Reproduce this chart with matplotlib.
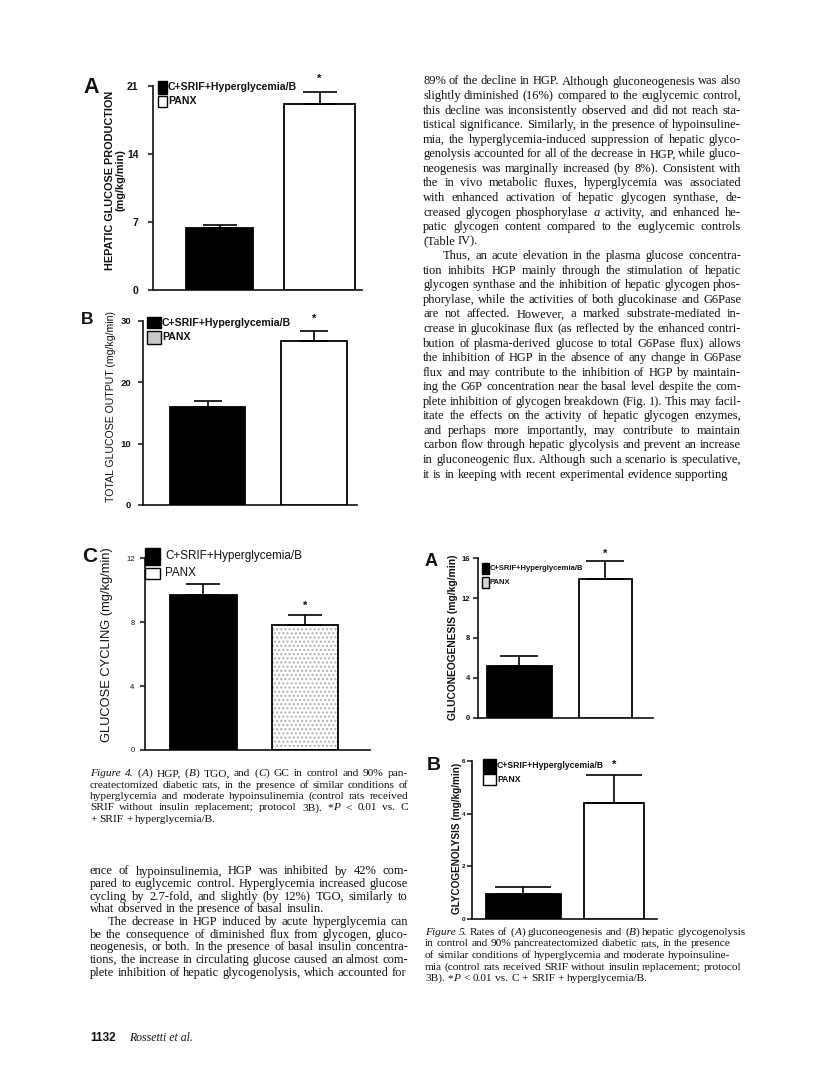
import matplotlib
matplotlib.use("Agg")
import matplotlib.pyplot as plt
from matplotlib.patches import Rectangle

# ---------------- data ----------------
groups = ["C+SRIF+Hyperglycemia/B", "PANX"]
hgp_mean = [6.4, 19.1]
hgp_sem = [0.25, 1.3]
tgo_mean = [15.9, 26.7]
tgo_sem = [1.0, 1.6]
gc_mean = [9.7, 7.8]
gc_sem = [0.7, 0.65]
gng_mean = [5.2, 13.9]
gng_sem = [1.0, 1.85]
gly_mean = [0.96, 4.41]
gly_sem = [0.26, 1.05]

hgp_ticks = [0, 7, 14, 21]
tgo_ticks = [0, 10, 20, 30]
gc_ticks = [0, 4, 8, 12]
gng_ticks = [0, 4, 8, 12, 16]
gly_ticks = [0, 2, 4, 6]
significant = [False, True]

right_col_lines = [
    "89% of the decline in HGP. Although gluconeogenesis was also",
    "slightly diminished (16%) compared to the euglycemic control,",
    "this decline was inconsistently observed and did not reach sta-",
    "tistical significance. Similarly, in the presence of hypoinsuline-",
    "mia, the hyperglycemia-induced suppression of hepatic glyco-",
    "genolysis accounted for all of the decrease in HGP, while gluco-",
    "neogenesis was marginally increased (by 8%). Consistent with",
    "the in vivo metabolic fluxes, hyperglycemia was associated",
    "with enhanced activation of hepatic glycogen synthase, de-",
    "creased glycogen phosphorylase {a} activity, and enhanced he-",
    "patic glycogen content compared to the euglycemic controls",
    "(Table IV).",
    "Thus, an acute elevation in the plasma glucose concentra-",
    "tion inhibits HGP mainly through the stimulation of hepatic",
    "glycogen synthase and the inhibition of hepatic glycogen phos-",
    "phorylase, while the activities of both glucokinase and G6Pase",
    "are not affected. However, a marked substrate-mediated in-",
    "crease in glucokinase flux (as reflected by the enhanced contri-",
    "bution of plasma-derived glucose to total G6Pase flux) allows",
    "the inhibition of HGP in the absence of any change in G6Pase",
    "flux and may contribute to the inhibition of HGP by maintain-",
    "ing the G6P concentration near the basal level despite the com-",
    "plete inhibition of glycogen breakdown (Fig. 1). This may facil-",
    "itate the effects on the activity of hepatic glycogen enzymes,",
    "and perhaps more importantly, may contribute to maintain",
    "carbon flow through hepatic glycolysis and prevent an increase",
    "in gluconeogenic flux. Although such a scenario is speculative,",
    "it is in keeping with recent experimental evidence supporting",
]
right_col_last = {11}
right_col_indent = {12}

left_col_lines = [
    "ence of hypoinsulinemia, HGP was inhibited by 42% com-",
    "pared to euglycemic control. Hyperglycemia increased glucose",
    "cycling by 2.7-fold, and slightly (by 12%) TGO, similarly to",
    "what observed in the presence of basal insulin.",
    "The decrease in HGP induced by acute hyperglycemia can",
    "be the consequence of diminished flux from glycogen, gluco-",
    "neogenesis, or both. In the presence of basal insulin concentra-",
    "tions, the increase in circulating glucose caused an almost com-",
    "plete inhibition of hepatic glycogenolysis, which accounted for",
]
left_col_last = {3}
left_col_indent = {4}

fig4_caption = [
    "{Figure} {4.} ({A}) HGP, ({B}) TGO, and ({C}) GC in control and 90% pan-",
    "createctomized diabetic rats, in the presence of similar conditions of",
    "hyperglycemia and moderate hypoinsulinemia (control rats received",
    "SRIF without insulin replacement; protocol 3B). *{P} < 0.01 vs. C",
    "+ SRIF + hyperglycemia/B.",
]
fig5_caption = [
    "{Figure} {5.} Rates of ({A}) gluconeogenesis and ({B}) hepatic glycogenolysis",
    "in control and 90% pancreatectomized diabetic rats, in the presence",
    "of similar conditions of hyperglycemia and moderate hypoinsuline-",
    "mia (control rats received SRIF without insulin replacement; protocol",
    "3B). *{P} < 0.01 vs. C + SRIF + hyperglycemia/B.",
]

# ---------------- figure ----------------
W, H = 816, 1074
fig = plt.figure(figsize=(W / 100, H / 100), dpi=100)
fig.patch.set_facecolor("white")
renderer = fig.canvas.get_renderer()

SANS = ["Liberation Sans", "DejaVu Sans"]
SERIF = ["Liberation Serif", "DejaVu Serif"]
INK = "#111111"


def fx(x):
    return x / W


def fy(y):
    return 1 - y / H


def parse(word):
    segs, buf, it = [], "", False
    for ch in word:
        if ch == "{":
            if buf:
                segs.append((buf, it))
            buf, it = "", True
        elif ch == "}":
            if buf:
                segs.append((buf, it))
            buf, it = "", False
        else:
            buf += ch
    if buf:
        segs.append((buf, it))
    return segs


def measure(s, size, italic):
    t = fig.text(0, 0, s, fontsize=size, family=SERIF,
                 style="italic" if italic else "normal")
    w = t.get_window_extent(renderer).width
    t.remove()
    return w


MIN_GAP = 2.2


def draw_line(line, x0, x1, y, size, justify):
    words = [parse(w) for w in line.split(" ")]
    sp = measure("a a", size, False) - measure("aa", size, False)
    widths = [[measure(s, size, it) for s, it in wd] for wd in words]
    total = sum(sum(w) for w in widths)
    n = len(words)
    if justify and n > 1:
        gap = (x1 - x0 - total) / (n - 1)
        if gap < MIN_GAP:
            size2 = size * (x1 - x0 - MIN_GAP * (n - 1)) / total
            return draw_line(line, x0, x1, y, size2, justify)
    else:
        gap = sp
        if x0 + total + gap * (n - 1) > x1 + 2:
            size2 = size * (x1 - x0 - sp * (n - 1)) / total
            return draw_line(line, x0, x1, y, size2, justify)
    x = x0
    for wd, ws in zip(words, widths):
        for (s, it), w in zip(wd, ws):
            fig.text(fx(x), fy(y), s, fontsize=size, family=SERIF,
                     style="italic" if it else "normal", color=INK,
                     va="baseline", ha="left")
            x += w
        x += gap


def draw_block(lines, x0, x1, y0, dy, size, last=(), indent=(), ind=18,
               justify=True):
    for i, line in enumerate(lines):
        xs = x0 + (ind if i in indent else 0)
        draw_line(line, xs, x1, y0 + i * dy, size,
                  justify and (i not in last) and (i != len(lines) - 1))


# ---------------- bar panels ----------------
def panel(box, xlim, means, sems, ticks, widths, capsize, tick_size,
          tick_weight, tick_pad, star_off, hatch_white=False):
    x0, y0, x1, y1 = box
    ax = fig.add_axes([fx(x0), fy(y1), fx(x1 - x0), (y1 - y0) / H])
    pos = list(range(len(means)))
    colors = ["black", "white"]
    if hatch_white:
        ax.bar(pos[1], means[1], width=widths[1], color="white",
               edgecolor="#b0b0b0", hatch="....", linewidth=0, zorder=2)
        ax.bar(pos, means, width=widths, color=["black", "none"],
               edgecolor="black", linewidth=1.3, zorder=3)
    else:
        ax.bar(pos, means, width=widths, color=colors, edgecolor="black",
               linewidth=1.3, zorder=3)
    ax.errorbar(pos, means, yerr=[[0] * len(sems), sems], fmt="none",
                ecolor="black", elinewidth=1.2, capsize=capsize,
                capthick=1.2, zorder=4)
    for p, m, s, sig in zip(pos, means, sems, significant):
        if sig:
            ax.annotate("*", (p, m + s), xytext=(0, star_off),
                        textcoords="offset points", ha="center",
                        va="center", fontsize=8, fontweight="bold",
                        family=SANS, color=INK)
    ax.set_xlim(*xlim)
    ax.set_ylim(ticks[0], ticks[-1])
    ax.set_yticks(ticks)
    ax.set_yticklabels([str(t) for t in ticks], fontsize=tick_size,
                       fontweight=tick_weight, family=SANS, color=INK)
    ax.set_xticks([])
    for s in ("top", "right"):
        ax.spines[s].set_visible(False)
    for s in ("left", "bottom"):
        ax.spines[s].set_linewidth(1.2)
        ax.spines[s].set_color(INK)
    ax.tick_params(axis="y", direction="out", length=3.5, width=1.1,
                   pad=tick_pad, colors=INK)
    ax.patch.set_alpha(0)
    return ax


def legend(box_x, box_w, rows, text_x, size, weight, fills):
    for (yt, yb), label, fc in zip(rows, groups, fills):
        fig.patches.append(Rectangle((fx(box_x), fy(yb)), box_w / W,
                                     (yb - yt) / H, facecolor=fc,
                                     edgecolor="black", linewidth=1.0,
                                     transform=fig.transFigure, figure=fig))
        fig.text(fx(text_x), fy((yt + yb) / 2), label, fontsize=size,
                 fontweight=weight, family=SANS, va="center", ha="left",
                 color=INK)


# Figure 4A
panel((153, 86, 362, 290), (-0.665, 1.425), hgp_mean, hgp_sem, hgp_ticks,
      [0.67, 0.71], 12, 7.5, "bold", 7, 9)
legend(158, 9, [(81, 94), (96, 107)], 168, 7.6, "bold", ["black", "white"])
fig.text(fx(115), fy(180), "HEPATIC GLUCOSE PRODUCTION\n(mg/kg/min)",
         rotation=90, fontsize=7.8, fontweight="bold", family=SANS,
         ha="center", va="center", linespacing=1.0, color=INK)
fig.text(fx(83), fy(87), "A", fontsize=15.5, fontweight="bold", family=SANS,
         ha="left", va="center", color=INK)

# Figure 4B
panel((143, 320.7, 357, 505), (-0.606, 1.403), tgo_mean, tgo_sem, tgo_ticks,
      [0.70, 0.62], 10, 6.8, "bold", 5, 9)
legend(147, 14, [(317, 328), (331, 344)], 162, 7.6, "bold", ["black", "#c8c8c8"])
fig.text(fx(111), fy(406), "TOTAL GLUCOSE OUTPUT (mg/kg/min)", rotation=90,
         fontsize=7.6, family=SANS, ha="center", va="center", color=INK)
fig.text(fx(81), fy(319), "B", fontsize=12.5, fontweight="bold", family=SANS,
         ha="left", va="center", color=INK)

# Figure 4C
panel((145, 558.3, 370, 750), (-0.573, 1.639), gc_mean, gc_sem, gc_ticks,
      [0.656, 0.656], 12, 5.5, "normal", 4, 6.5, hatch_white=True)
legend(145, 15, [(548, 565), (568, 579)], 165, 8.4, "normal", ["black", "white"])
fig.text(fx(107), fy(645), "GLUCOSE CYCLING (mg/kg/min)", rotation=90,
         fontsize=9.3, family=SANS, ha="center", va="center", color=INK)
fig.text(fx(82), fy(557), "C", fontsize=15, fontweight="bold", family=SANS,
         ha="left", va="center", color=INK)

# Figure 5A
panel((478, 558.3, 653, 717.7), (-0.48, 1.555), gng_mean, gng_sem, gng_ticks,
      [0.76, 0.61], 14, 5.5, "bold", 2, 5)
legend(482, 7, [(563, 574), (577, 588)], 490, 5.5, "bold", ["black", "#d6d6d6"])
fig.text(fx(453), fy(637), "GLUCONEOGENESIS (mg/kg/min)", rotation=90,
         fontsize=7.4, fontweight="bold", family=SANS, ha="center",
         va="center", color=INK)
fig.text(fx(425), fy(561), "A", fontsize=13, fontweight="bold", family=SANS,
         ha="left", va="center", color=INK)

# Figure 5B
panel((472, 760.7, 657, 919.3), (-0.564, 1.469), gly_mean, gly_sem, gly_ticks,
      [0.82, 0.66], 20, 4.5, "bold", 1.5, 7)
legend(483, 13, [(759, 773), (774, 785)], 497, 6.2, "bold", ["black", "white"])
fig.text(fx(457), fy(838), "GLYCOGENOLYSIS (mg/kg/min)", rotation=90,
         fontsize=7.2, fontweight="bold", family=SANS, ha="center",
         va="center", color=INK)
fig.text(fx(427), fy(765), "B", fontsize=14, fontweight="bold", family=SANS,
         ha="left", va="center", color=INK)

# ---------------- text ----------------
draw_block(right_col_lines, 423, 741, 84.5, 14.56, 9.0,
           last=right_col_last, indent=right_col_indent, ind=20)
draw_block(left_col_lines, 90, 408, 874.5, 12.65, 9.0,
           last=left_col_last, indent=left_col_indent, ind=18)
draw_block(fig4_caption, 90, 408, 776, 11.5, 8.2)
draw_block(fig5_caption, 425, 746, 935, 11.5, 8.2, justify=False)

fig.text(fx(90), fy(1041), "1132", fontsize=8.5, fontweight="bold",
         family=SANS, va="baseline", color=INK)
fig.text(fx(129), fy(1041), "Rossetti et al.", fontsize=8.5, style="italic",
         family=SERIF, va="baseline", color=INK)

fig.savefig("out.png", dpi=100, facecolor="white")
